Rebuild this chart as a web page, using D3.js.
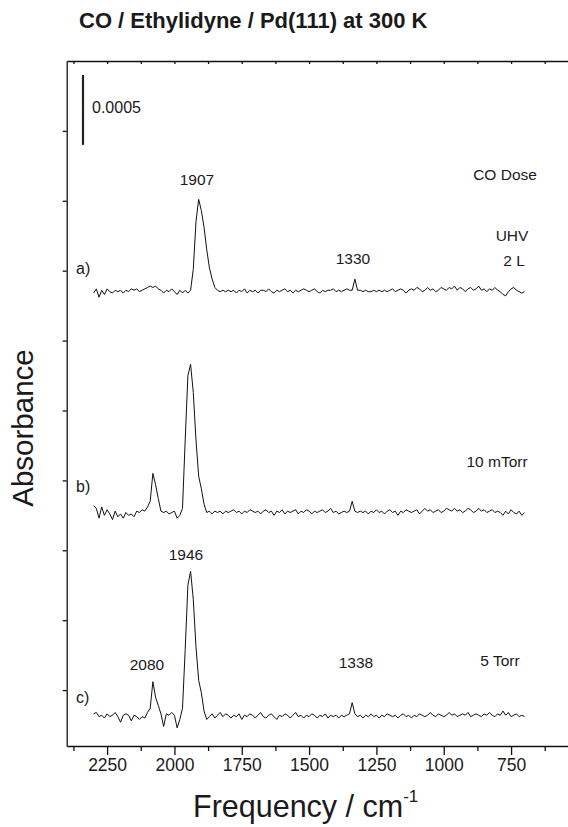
<!DOCTYPE html>
<html>
<head>
<meta charset="utf-8">
<script src="https://cdn.jsdelivr.net/npm/d3@7"></script>
<style>
  body { margin: 0; background: #fff; }
  svg { display: block; font-family: "Liberation Sans", Arial, Helvetica, sans-serif; }
  .axis path, .axis line { stroke: #111; stroke-width: 1.3; }
</style>
</head>
<body>
<div class="spectra"></div>
<script>
// wavenumber grid of the spectra (cm-1), one point every 10 cm-1
const freqStart = 2300;
const freqStep = 10;

// absorbance relative to each baseline, in units of 1e-5
const specA = [
  -1, 2, -4, 1, -2, 2, 0, -1, 1, 0,
  1, -1, 1, 0, 2, 1, 2, 0, 1, 2,
  3, 4, 3, 4, 2, 1, -1, 1, 0, 2,
  0, -2, 1, -1, 1, -1, 1, 16, 50, 66,
  58, 46, 30, 17, 9, 3, 1, 0, 1, 0,
  1, 0, 1, -1, 1, 0, 2, -1, 1, 0,
  1, -1, 1, 1, 0, 2, 0, -1, 1, 0,
  1, 2, 0, 1, -1, 1, 0, 1, 2, 1,
  0, 1, 2, 0, -1, 1, 0, 1, 1, 2,
  0, 1, 0, 1, 2, 1, 1, 9, 1, 1,
  0, 1, 0, 0, 1, 0, 1, 0, 1, 0,
  1, 2, 0, 1, 2, 1, -1, 1, 2, 1,
  3, 2, 0, 1, 3, 1, 2, 0, 1, 3,
  2, 1, 3, 2, 4, 1, 3, 2, 0, 2,
  3, 1, 2, 4, 1, 2, 0, 2, 1, 3,
  1, 0, -2, -3, 0, 2, 3, 1, 0, -1,
  0
];
const specB = [
  5, 3, -4, 4, -2, 2, -1, -5, 1, -3,
  -1, -4, 0, -2, -1, -3, 1, 0, 2, 1,
  4, 8, 28, 20, 10, 1, 0, 1, -1, 0,
  1, -4, -2, 3, 52, 98, 106, 86, 52, 26,
  17, 6, 0, 1, -1, 1, 0, 1, -1, 1,
  0, 1, 2, 0, 1, -1, 1, 0, 2, 1,
  0, 1, -1, 1, 2, 0, 1, -2, 1, 0,
  2, -1, 1, 0, 1, 2, -1, 1, 0, 2,
  1, -1, 1, 0, 1, 2, 0, 1, 3, 0,
  1, -1, 0, 1, 0, 1, 8, 1, 0, 1,
  0, 1, -1, 1, 0, 2, 0, 1, -1, 1,
  2, 0, 1, -2, 1, 0, 2, 1, 0, 1,
  2, -1, 1, 3, 1, 2, 0, 1, 2, 0,
  1, 3, 2, 1, 3, 1, 2, 0, 1, 3,
  2, 0, 1, 3, 1, 2, 0, 1, 2, 0,
  1, 0, -2, 1, -1, 2, 0, -1, 1, -2,
  0
];
const specC = [
  2, 3, 0, 1, -1, 2, 0, 1, 3, 0,
  -4, 1, 2, 1, -3, 1, 0, -2, 0, -1,
  3, 6, 25, 14, 8, 2, -7, 2, 1, 3,
  1, -8, -2, 6, 48, 94, 104, 84, 50, 26,
  17, 4, -2, 0, 2, -1, 1, 3, 0, 2,
  1, -1, 1, 0, 2, -2, 1, 0, 2, 1,
  -1, 1, 3, 0, -1, 1, 2, 0, -2, 1,
  0, 2, 1, -1, 1, 3, 0, 1, -1, 1,
  0, 2, 1, -1, 1, 0, 2, -1, 1, 0,
  1, -1, 1, 0, 1, 2, 10, 2, 0, 1,
  -1, 1, 0, 2, 0, 1, -1, 1, 0, 2,
  1, 0, 1, -1, 1, 2, 0, 1, -1, 1,
  0, 2, 1, 0, 1, 3, 1, 0, 2, 1,
  0, 1, 3, 1, 2, 0, 1, 2, 1, 3,
  0, 1, 2, 1, 0, 2, 1, 3, 1, 0,
  2, 1, 4, 1, 3, 0, 1, 2, 0, 1,
  0
];

const spectra = [specA, specB, specC];
const offsets = [0.00335, 0.00177, 0.00031];   // absorbance offset of each trace
const traceNames = ["a)", "b)", "c)"];
const doseLabels = ["UHV", "2 L", "10 mTorr", "5 Torr"];
const peakLabels = ["1907", "1330", "1946", "2080", "1338"];

const majorTicks = [2250, 2000, 1750, 1500, 1250, 1000, 750];
const minorTicks = [2375, 2125, 1875, 1625, 1375, 1125, 875, 625];
const leftTicks = [0.0005, 0.001, 0.0015, 0.002, 0.0025, 0.003, 0.0035, 0.004, 0.0045];

const width = 568;
const height = 827;

const svg = d3
  .select(".spectra")
  .append("svg")
  .attr("width", width)
  .attr("height", height);

const x = d3.scaleLinear().domain([2400, 500]).range([66.7, 578.4]);
const y = d3.scaleLinear().domain([0.0001, 0.005]).range([746, 61]);

// text helper, font sizes in px
const label = (tx, ty, text, size, anchor = "middle", weight = "normal") =>
  svg
    .append("text")
    .attr("x", tx)
    .attr("y", ty)
    .attr("text-anchor", anchor)
    .attr("font-size", size)
    .attr("font-weight", weight)
    .attr("fill", "#1a1a1a")
    .text(text);

label(79, 28, "CO / Ethylidyne / Pd(111) at 300 K", 22, "start", "bold");

// axes
svg
  .append("g")
  .attr("class", "axis")
  .attr("transform", `translate(0, ${y.range()[0]})`)
  .call(
    d3.axisBottom(x)
      .tickValues(majorTicks)
      .tickFormat(d3.format("d"))
      .tickSizeInner(9)
      .tickSizeOuter(0)
      .tickPadding(4)
  )
  .call(g => g.selectAll("text").attr("font-size", 17.5).attr("fill", "#1a1a1a"))
  .attr("font-family", null);

svg
  .append("g")
  .attr("class", "axis")
  .attr("transform", `translate(0, ${y.range()[0]})`)
  .call(d3.axisBottom(x).tickValues(minorTicks).tickSize(5).tickFormat(""))
  .call(g => g.select(".domain").remove());

svg
  .append("g")
  .attr("class", "axis")
  .attr("transform", `translate(0, ${y.range()[1]})`)
  .call(d3.axisTop(x).tickValues(majorTicks.concat(minorTicks)).tickSizeInner(-3).tickSizeOuter(0).tickFormat(""));

svg
  .append("g")
  .attr("class", "axis")
  .attr("transform", `translate(${x.range()[0]}, 0)`)
  .call(d3.axisLeft(y).tickValues(leftTicks).tickSizeInner(4).tickSizeOuter(0).tickFormat(""));

// scale bar
svg
  .append("line")
  .attr("x1", 83)
  .attr("x2", 83)
  .attr("y1", y(0.0044))
  .attr("y2", y(0.0049))
  .attr("stroke", "#222")
  .attr("stroke-width", 2.2);
label(92, 113, "0.0005", 16, "start");

// traces
const line = d3
  .line()
  .x((d, i) => x(freqStart - i * freqStep))
  .y(d => d);

spectra.forEach((s, k) => {
  svg
    .append("path")
    .datum(s.map(v => y(offsets[k] + v * 1e-5)))
    .attr("d", line)
    .attr("fill", "none")
    .attr("stroke", "#111")
    .attr("stroke-width", 1)
    .attr("stroke-linejoin", "round");
});

// trace letters
const letterY = [274, 492, 703];
traceNames.forEach((t, k) => label(76, letterY[k], t, 16, "start"));

// annotations
label(505, 180, "CO Dose", 15.5);
label(512, 241, doseLabels[0], 15.5);
label(514, 266, doseLabels[1], 15.5);
label(497, 467, doseLabels[2], 15.5);
label(500, 666, doseLabels[3], 15.5);

label(197, 185, peakLabels[0], 15.5);
label(353, 264, peakLabels[1], 15.5);
label(186, 560, peakLabels[2], 15.5);
label(147, 670, peakLabels[3], 15.5);
label(356, 668, peakLabels[4], 15.5);

// axis titles
svg
  .append("text")
  .attr("transform", "translate(33, 428) rotate(-90)")
  .attr("text-anchor", "middle")
  .attr("font-size", 29.5)
  .attr("fill", "#1a1a1a")
  .text("Absorbance");

const xt = svg
  .append("text")
  .attr("x", 193)
  .attr("y", 817)
  .attr("font-size", 30.5)
  .attr("fill", "#1a1a1a");
xt.append("tspan").text("Frequency / cm");
xt.append("tspan").attr("dy", -15).attr("font-size", 17).text("-1");
</script>
</body>
</html>
